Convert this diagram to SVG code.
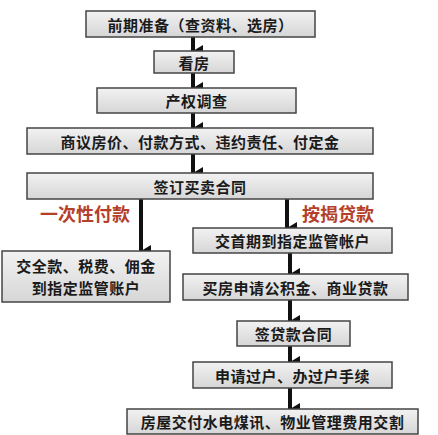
<svg xmlns="http://www.w3.org/2000/svg" width="438" height="435" viewBox="0 0 438 435">
<defs>
<linearGradient id="g" x1="0" y1="0" x2="0" y2="1">
<stop offset="0" stop-color="#f2f2f2"/>
<stop offset="1" stop-color="#d6d6d6"/>
</linearGradient>
<marker id="ah" markerUnits="userSpaceOnUse" markerWidth="12" markerHeight="10" refX="6" refY="10" orient="auto-start-reverse" viewBox="0 0 12 10">
<path d="M0,0 L12,0 L6,10 Z" fill="#111"/>
</marker>
<style>
.box{fill:url(#g);stroke:#444;stroke-width:1.5}
.t{font-family:"Noto Sans CJK SC","Noto Sans CJK TC",sans-serif;font-weight:bold;font-size:15px;fill:#1a1a1a;text-anchor:middle;dominant-baseline:central;letter-spacing:0.5px}
.lbl{font-family:"Noto Sans CJK SC","Noto Sans CJK TC",sans-serif;font-weight:bold;font-size:18px;fill:#b5402a;text-anchor:middle;dominant-baseline:central}
.arr{stroke:#111;stroke-width:4;fill:none}
</style>
</defs>
<rect width="438" height="435" fill="#fff"/>
<g id="connectors">
<line class="arr" x1="193" y1="37" x2="193" y2="51" marker-end="url(#ah)"/>
<line class="arr" x1="193" y1="73" x2="193" y2="88" marker-end="url(#ah)"/>
<line class="arr" x1="193" y1="113" x2="193" y2="128" marker-end="url(#ah)"/>
<line class="arr" x1="193" y1="154" x2="193" y2="173" marker-end="url(#ah)"/>
<line class="arr" x1="141" y1="199" x2="141" y2="251" marker-end="url(#ah)"/>
<line class="arr" x1="287" y1="199" x2="287" y2="228" marker-end="url(#ah)"/>
<line class="arr" x1="290" y1="253" x2="290" y2="274" marker-end="url(#ah)"/>
<line class="arr" x1="290" y1="300" x2="290" y2="321" marker-end="url(#ah)"/>
<line class="arr" x1="290" y1="346" x2="290" y2="362" marker-end="url(#ah)"/>
<line class="arr" x1="290" y1="388" x2="290" y2="409" marker-end="url(#ah)"/>
<text class="lbl" x="85" y="213">一次性付款</text>
<text class="lbl" x="338" y="213">按揭贷款</text>
</g>
<g id="n1"><rect class="box" x="86" y="11" width="229" height="26"/><text class="t" x="200.5" y="24">前期准备（查资料、选房）</text></g>
<g id="n2"><rect class="box" x="154" y="51" width="80" height="22"/><text class="t" x="194" y="62">看房</text></g>
<g id="n3"><rect class="box" x="97" y="88" width="199" height="25"/><text class="t" x="196.5" y="100.5">产权调查</text></g>
<g id="n4"><rect class="box" x="27" y="128" width="346" height="26"/><text class="t" x="200" y="141">商议房价、付款方式、违约责任、付定金</text></g>
<g id="n5"><rect class="box" x="27" y="173" width="346" height="26"/><text class="t" x="200" y="186">签订买卖合同</text></g>
<g id="n6"><rect class="box" x="2" y="251" width="168" height="51"/><text class="t" x="86" y="265">交全款、税费、佣金</text><text class="t" x="86" y="287">到指定监管账户</text></g>
<g id="n7"><rect class="box" x="193" y="228" width="199" height="25"/><text class="t" x="292.5" y="240.5">交首期到指定监管帐户</text></g>
<g id="n8"><rect class="box" x="183" y="274" width="225" height="26"/><text class="t" x="295.5" y="287">买房申请公积金、商业贷款</text></g>
<g id="n9"><rect class="box" x="237" y="321" width="113" height="25"/><text class="t" x="293.5" y="333.5">签贷款合同</text></g>
<g id="n10"><rect class="box" x="193" y="362" width="199" height="26"/><text class="t" x="292.5" y="375">申请过户、办过户手续</text></g>
<g id="n11"><rect class="box" x="127" y="409" width="291" height="25"/><text class="t" x="272.5" y="421.5">房屋交付水电煤讯、物业管理费用交割</text></g>
</svg>
